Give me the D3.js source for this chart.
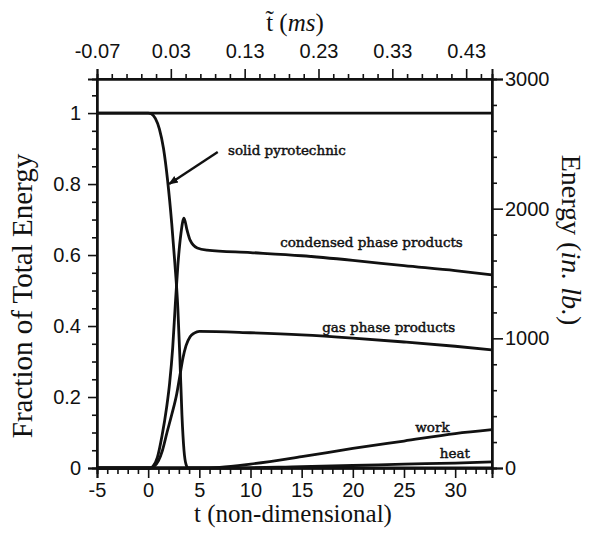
<!DOCTYPE html>
<html>
<head>
<meta charset="utf-8">
<script src="https://cdn.jsdelivr.net/npm/d3@7/dist/d3.min.js"></script>
<style>
	body { margin: 0; background: #fff; }
	.tick text { font-family: "Liberation Sans", Arial, sans-serif; font-size: 20px; fill: #111; }
	.axis path, .axis line { stroke: #111; }
	.title { font-family: "Liberation Serif", "Times New Roman", serif; fill: #111; }
	.note { font-family: "DejaVu Serif", serif; font-size: 13.5px; fill: #111; stroke: #111; stroke-width: 0.45px; }
</style>
</head>
<body>
<div id="chart"></div>
<script>
'use strict'

// t (non-dimensional) vs fraction of total energy
var solid = [
	[-5, 1], [0, 1], [0.3, 0.998], [0.7, 0.985], [1.1, 0.955], [1.5, 0.9],
	[1.9, 0.81], [2.3, 0.69], [2.6, 0.58], [2.9, 0.45], [3.1, 0.31],
	[3.3, 0.15], [3.5, 0.05], [3.7, 0.01], [3.9, 0], [33.6, 0]
];
var condensed = [
	[-5, 0], [0.2, 0], [0.5, 0.006], [0.9, 0.03], [1.35, 0.09], [1.8, 0.17],
	[2.1, 0.24], [2.4, 0.34], [2.65, 0.46], [2.9, 0.57], [3.2, 0.66], [3.5, 0.704],
	[3.8, 0.67], [4.1, 0.642], [4.8, 0.62], [5.75, 0.614], [10, 0.607],
	[15, 0.598], [20, 0.585], [25, 0.57], [30, 0.556], [33.6, 0.544]
];
var gas = [
	[-5, 0], [0.2, 0], [0.6, 0.005], [1.0, 0.02], [1.4, 0.05], [1.84, 0.1],
	[2.3, 0.15], [2.8, 0.21], [3.1, 0.26], [3.4, 0.31], [3.7, 0.345],
	[4.1, 0.37], [4.5, 0.38], [5, 0.385], [10, 0.381], [15, 0.375],
	[20, 0.366], [25, 0.355], [30, 0.343], [33.6, 0.333]
];
var work = [
	[-5, 0], [5, 0], [7, 0.002], [10, 0.011], [15, 0.032], [20, 0.055],
	[25, 0.076], [30, 0.097], [33.6, 0.108]
];
var heat = [
	[-5, 0], [8, 0], [15, 0.004], [20, 0.007], [25, 0.011], [30, 0.014], [33.6, 0.017]
];
var total = [[-5, 1], [33.6, 1]];

var bottomTicks = [-5, 0, 5, 10, 15, 20, 25, 30];
var topTicks = [-0.07, 0.03, 0.13, 0.23, 0.33, 0.43];
var leftTicks = [0, 0.2, 0.4, 0.6, 0.8, 1];
var rightTicks = [0, 1000, 2000, 3000];

// labels: text, t, fraction at baseline start
var notes = [
	['solid pyrotechnic', 7.8, 0.882],
	['condensed phase products', 12.9, 0.623],
	['gas phase products', 17.0, 0.383],
	['work', 26.1, 0.101],
	['heat', 28.5, 0.028]
];
var arrow = { from: [6.8, 0.89], to: [2.05, 0.8] };

(function() {
	var dims = { width: 590, height: 533 };
	var pad = { top: 79, right: 98, bottom: 65, left: 97 };

	var svg = d3.select('#chart').append('svg')
		.attr('width', dims.width)
		.attr('height', dims.height);

	var x = d3.scaleLinear().domain([-5, 33.6]).range([pad.left, dims.width - pad.right]);
	var xTop = d3.scaleLinear().domain([-0.07, 0.465]).range(x.range());
	var y = d3.scaleLinear().domain([0, 1.096]).range([dims.height - pad.bottom, pad.top]);
	var yRight = d3.scaleLinear().domain([0, 3000]).range(y.range());

	var bottomY = dims.height - pad.bottom;
	var rightX = dims.width - pad.right;

	// plain hyphen for negatives, like the original
	var fmt = d3.formatLocale({ decimal: '.', thousands: '', grouping: [3], currency: ['', ''], minus: '-' });

	function minor(values, majors) {
		return values.filter(function(v) {
			return !majors.some(function(m) { return Math.abs(m - v) < 1e-6; });
		});
	}

	// minor ticks
	svg.append('g').attr('class', 'axis')
		.attr('transform', 'translate(0,' + bottomY + ')')
		.call(d3.axisBottom(x).tickValues(minor(d3.range(-5, 34, 1), bottomTicks)).tickSize(6).tickFormat(''));
	svg.append('g').attr('class', 'axis')
		.attr('transform', 'translate(0,' + pad.top + ')')
		.call(d3.axisTop(xTop).tickValues(minor(d3.range(-0.07, 0.46, 0.02), topTicks)).tickSize(5).tickFormat(''));
	svg.append('g').attr('class', 'axis')
		.attr('transform', 'translate(' + pad.left + ',0)')
		.call(d3.axisLeft(y).tickValues(minor(d3.range(0, 1.06, 0.05), leftTicks)).tickSize(5).tickFormat(''));
	svg.append('g').attr('class', 'axis')
		.attr('transform', 'translate(' + rightX + ',0)')
		.call(d3.axisRight(yRight).tickValues(minor(d3.range(0, 2900, 200), rightTicks)).tickSize(5).tickFormat(''));

	// major ticks
	svg.append('g').attr('class', 'axis')
		.attr('transform', 'translate(0,' + bottomY + ')')
		.call(d3.axisBottom(x).tickValues(bottomTicks).tickSize(10).tickPadding(5).tickFormat(fmt.format('d')));
	svg.append('g').attr('class', 'axis')
		.attr('transform', 'translate(0,' + pad.top + ')')
		.call(d3.axisTop(xTop).tickValues(topTicks).tickSize(10).tickPadding(11).tickFormat(fmt.format('.2f')));
	svg.append('g').attr('class', 'axis')
		.attr('transform', 'translate(' + pad.left + ',0)')
		.call(d3.axisLeft(y).tickValues(leftTicks).tickSize(9).tickPadding(7).tickFormat(fmt.format('')));
	svg.append('g').attr('class', 'axis')
		.attr('transform', 'translate(' + rightX + ',0)')
		.call(d3.axisRight(yRight).tickValues(rightTicks).tickSize(11).tickPadding(2).tickFormat(fmt.format('d')));

	svg.selectAll('.axis path').attr('stroke-width', 2);
	svg.selectAll('.axis line').attr('stroke-width', 1.6);

	// frame
	svg.append('rect')
		.attr('x', pad.left).attr('y', pad.top)
		.attr('width', rightX - pad.left).attr('height', bottomY - pad.top)
		.attr('fill', 'none').attr('stroke', '#111').attr('stroke-width', 2);

	var line = d3.line()
		.x(function(d) { return x(d[0]); })
		.y(function(d) { return y(d[1]); })
		.curve(d3.curveMonotoneX);

	[total, solid, condensed, gas, work, heat].forEach(function(s) {
		svg.append('path')
			.attr('d', line(s))
			.attr('fill', 'none')
			.attr('stroke', '#111')
			.attr('stroke-width', 2.8)
			.attr('stroke-linejoin', 'round');
	});

	// arrow to the solid curve
	svg.append('defs').append('marker')
		.attr('id', 'head').attr('viewBox', '0 0 10 10')
		.attr('refX', 9).attr('refY', 5)
		.attr('markerWidth', 4).attr('markerHeight', 4)
		.attr('orient', 'auto')
		.append('path').attr('d', 'M0,1L10,5L0,9Z').attr('fill', '#111');
	svg.append('line')
		.attr('x1', x(arrow.from[0])).attr('y1', y(arrow.from[1]))
		.attr('x2', x(arrow.to[0])).attr('y2', y(arrow.to[1]))
		.attr('stroke', '#111').attr('stroke-width', 2.4)
		.attr('marker-end', 'url(#head)');

	svg.selectAll('.note').data(notes).enter().append('text')
		.attr('class', 'note')
		.attr('x', function(d) { return x(d[1]); })
		.attr('y', function(d) { return y(d[2]); })
		.text(function(d) { return d[0]; });

	// axis titles
	svg.append('text').attr('class', 'title')
		.attr('transform', 'translate(32,' + 296 + ') rotate(-90)')
		.attr('text-anchor', 'middle').attr('font-size', 29)
		.text('Fraction of Total Energy');

	var rt = svg.append('text').attr('class', 'title')
		.attr('transform', 'translate(562,' + 240 + ') rotate(90)')
		.attr('text-anchor', 'middle').attr('font-size', 28);
	rt.append('tspan').text('Energy (');
	rt.append('tspan').attr('font-style', 'italic').text('in. lb.');
	rt.append('tspan').text(')');

	svg.append('text').attr('class', 'title')
		.attr('x', 293).attr('y', 522)
		.attr('text-anchor', 'middle').attr('font-size', 25)
		.text('t (non-dimensional)');

	var tt = svg.append('text').attr('class', 'title')
		.attr('x', 295).attr('y', 31)
		.attr('text-anchor', 'middle').attr('font-size', 25);
	tt.append('tspan').text('t\u0303 (');
	tt.append('tspan').attr('font-style', 'italic').text('ms');
	tt.append('tspan').text(')');
})();
</script>
</body>
</html>
